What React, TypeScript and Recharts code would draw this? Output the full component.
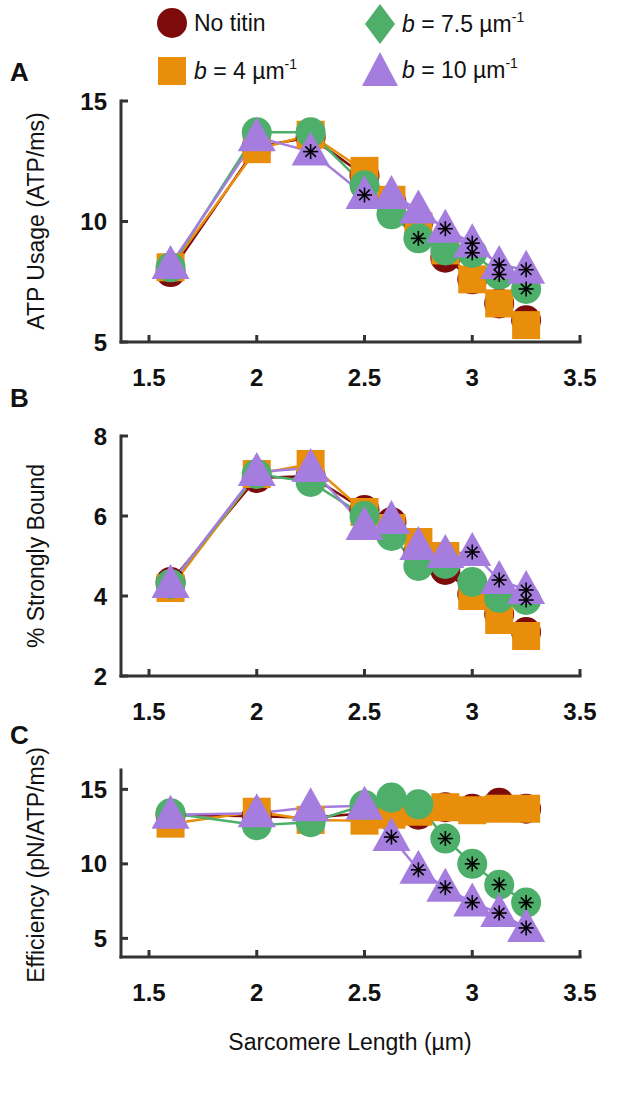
import React from "react";
import { ComposedChart, Line, XAxis, YAxis } from "recharts";

const sarcomereLength = [1.6, 2.0, 2.25, 2.5, 2.625, 2.75, 2.875, 3.0, 3.125, 3.25];
const xTicks = [1.5, 2, 2.5, 3, 3.5];

// A: ATP usage (ATP/ms)
const atpNoTitin = [7.9, 13.1, 13.5, 11.9, 10.8, 10.0, 8.5, 7.6, 6.6, 5.9];
const atpB4 = [8.1, 13.0, 13.6, 12.1, 10.9, 9.8, 8.8, 7.6, 6.6, 5.7];
const atpB75 = [8.1, 13.7, 13.7, 11.5, 10.3, 9.3, 8.8, 8.7, 7.8, 7.2];
const atpB10 = [8.2, 13.5, 12.9, 11.1, 11.1, 10.5, 9.7, 9.1, 8.2, 8.0];
const atpSig75 = [0, 0, 0, 0, 0, 1, 0, 1, 1, 1];
const atpSig10 = [0, 0, 1, 1, 0, 0, 1, 1, 1, 1];

// B: % strongly bound
const boundNoTitin = [4.35, 6.95, 7.0, 6.15, 5.85, 5.1, 4.65, 4.05, 3.55, 3.1];
const boundB4 = [4.2, 7.05, 7.3, 6.1, 5.7, 5.35, 5.0, 4.0, 3.4, 3.0];
const boundB75 = [4.3, 7.05, 6.85, 6.0, 5.5, 4.75, 4.8, 4.35, 3.95, 3.9];
const boundB10 = [4.3, 7.1, 7.2, 5.75, 5.9, 5.25, 5.05, 5.1, 4.4, 4.15];
const boundSig75 = [0, 0, 0, 0, 0, 0, 0, 0, 0, 1];
const boundSig10 = [0, 0, 0, 0, 0, 0, 0, 1, 1, 1];

// C: efficiency (pN/ATP/ms)
const effNoTitin = [13.3, 13.2, 13.1, 13.4, 13.8, 13.3, 13.8, 13.7, 14.1, 13.7];
const effB4 = [12.7, 13.5, 12.95, 12.9, 13.3, 13.5, 13.8, 13.6, 13.7, 13.7];
const effB75 = [13.4, 12.6, 12.8, 13.95, 14.45, 14.0, 11.7, 10.0, 8.6, 7.4];
const effB10 = [13.3, 13.4, 13.8, 13.9, 11.8, 9.6, 8.4, 7.4, 6.7, 5.7];
const effSig75 = [0, 0, 0, 0, 0, 0, 1, 1, 1, 1];
const effSig10 = [0, 0, 0, 0, 1, 1, 1, 1, 1, 1];

const RED = "#7d0b0b";
const ORANGE = "#e98e0b";
const GREEN = "#4daf69";
const PURPLE = "#a47ddf";
const AXIS = "#333";
const FONT = "'Liberation Sans', Arial, sans-serif";

const series = [
  { key: "r", color: RED, shape: "circle" },
  { key: "o", color: ORANGE, shape: "square" },
  { key: "g", color: GREEN, shape: "circle" },
  { key: "p", color: PURPLE, shape: "triangle" },
];

function makeRows(r: number[], o: number[], g: number[], p: number[]) {
  return sarcomereLength.map((x, i) => ({ x, r: r[i], o: o[i], g: g[i], p: p[i] }));
}

function marker(shape: string, color: string) {
  return (props: any) => {
    const { cx, cy, index } = props;
    if (cx == null || cy == null) return <g key={index} />;
    if (shape === "square")
      return <rect key={index} x={cx - 14} y={cy - 14} width={28} height={28} fill={color} />;
    if (shape === "triangle")
      return (
        <polygon
          key={index}
          points={`${cx},${cy - 20} ${cx - 19},${cy + 14} ${cx + 19},${cy + 14}`}
          fill={color}
        />
      );
    return <circle key={index} cx={cx} cy={cy} r={15} fill={color} />;
  };
}

function asterisk(sig: number[]) {
  return (props: any) => {
    const { cx, cy, index } = props;
    if (cx == null || cy == null || !sig[index]) return <g key={index} />;
    const s = 7.5;
    const d = 5.3;
    return (
      <g key={index} stroke="#000" strokeWidth={1.6}>
        <line x1={cx - s} y1={cy} x2={cx + s} y2={cy} />
        <line x1={cx} y1={cy - s} x2={cx} y2={cy + s} />
        <line x1={cx - d} y1={cy - d} x2={cx + d} y2={cy + d} />
        <line x1={cx - d} y1={cy + d} x2={cx + d} y2={cy - d} />
      </g>
    );
  };
}

const XTick = (props: any) => {
  const { x, y, payload } = props;
  return (
    <g>
      <line x1={x} x2={x} y1={y} y2={y - 7} stroke={AXIS} strokeWidth={3} />
      <text x={x} y={y + 44} textAnchor="middle" fontFamily={FONT} fontWeight="bold" fontSize={24} fill="#111">
        {payload.value}
      </text>
    </g>
  );
};

const YTick = (props: any) => {
  const { x, y, payload } = props;
  return (
    <g>
      <line x1={x} x2={x + 7} y1={y} y2={y} stroke={AXIS} strokeWidth={3} />
      <text x={x - 14} y={y + 8.5} textAnchor="end" fontFamily={FONT} fontWeight="bold" fontSize={24} fill="#111">
        {payload.value}
      </text>
    </g>
  );
};

type PanelProps = {
  plotTop: number;
  plotHeight: number;
  rows: any[];
  domain: [number, number];
  yTicks: number[];
  sig75: number[];
  sig10: number[];
};

function Panel({ plotTop, plotHeight, rows, domain, yTicks, sig75, sig10 }: PanelProps) {
  const axisLine = { stroke: AXIS, strokeWidth: 3, strokeLinecap: "square" as const };
  return (
    <div style={{ position: "absolute", left: 0, top: plotTop - 20 }}>
      <ComposedChart
        width={633}
        height={plotHeight + 80}
        data={rows}
        margin={{ top: 20, right: 53, bottom: 0, left: 0 }}
      >
        <XAxis
          type="number"
          dataKey="x"
          domain={[1.37, 3.5]}
          ticks={xTicks}
          tick={<XTick />}
          tickLine={false}
          tickSize={0}
          tickMargin={0}
          height={60}
          axisLine={axisLine}
        />
        <YAxis
          type="number"
          domain={domain}
          ticks={yTicks}
          tick={<YTick />}
          tickLine={false}
          tickSize={0}
          tickMargin={0}
          width={121}
          axisLine={axisLine}
        />
        {series.map((s) => (
          <Line
            key={"m" + s.key}
            dataKey={s.key}
            stroke="none"
            dot={marker(s.shape, s.color)}
            activeDot={false}
            isAnimationActive={false}
          />
        ))}
        {series.map((s) => (
          <Line
            key={"l" + s.key}
            dataKey={s.key}
            type="linear"
            stroke={s.color}
            strokeWidth={2.5}
            dot={false}
            activeDot={false}
            isAnimationActive={false}
          />
        ))}
        <Line dataKey="g" stroke="none" dot={asterisk(sig75)} activeDot={false} isAnimationActive={false} />
        <Line dataKey="p" stroke="none" dot={asterisk(sig10)} activeDot={false} isAnimationActive={false} />
      </ComposedChart>
    </div>
  );
}

const abs = (left: number, top: number): React.CSSProperties => ({ position: "absolute", left, top });

function LegendIcon({ shape, color }: { shape: string; color: string }) {
  return (
    <svg width={40} height={44} style={{ display: "block" }}>
      {shape === "circle" && <circle cx={20} cy={22} r={15} fill={color} />}
      {shape === "square" && <rect x={6} y={8} width={28} height={28} fill={color} />}
      {shape === "diamond" && <polygon points="20,2 35,22 20,42 5,22" fill={color} />}
      {shape === "triangle" && <polygon points="20,4 38,38 2,38" fill={color} />}
    </svg>
  );
}

function LegendItem({ left, cy, shape, color, children }: any) {
  return (
    <div style={{ ...abs(left, cy - 22), display: "flex", alignItems: "center", height: 44, whiteSpace: "nowrap" }}>
      <LegendIcon shape={shape} color={color} />
      <span style={{ marginLeft: 2, fontSize: 23 }}>{children}</span>
    </div>
  );
}

const sup: React.CSSProperties = { fontSize: 14, verticalAlign: "top", position: "relative", top: -2 };

function YTitle({ cy, text }: { cy: number; text: string }) {
  return (
    <div
      style={{
        position: "absolute",
        left: 36,
        top: cy,
        transform: "translate(-50%, -50%) rotate(-90deg)",
        whiteSpace: "nowrap",
        fontSize: 23,
      }}
    >
      {text}
    </div>
  );
}

export default function App() {
  const letter: React.CSSProperties = { position: "absolute", left: 10, fontSize: 26, fontWeight: "bold", lineHeight: "30px" };
  return (
    <div
      style={{
        position: "absolute",
        left: 0,
        top: 0,
        width: 633,
        height: 1103,
        background: "#fff",
        fontFamily: FONT,
        color: "#111",
        overflow: "hidden",
      }}
    >
      <LegendItem left={152} cy={23} shape="circle" color={RED}>No titin</LegendItem>
      <LegendItem left={152} cy={71} shape="square" color={ORANGE}>
        <i>b</i> = 4 µm<span style={sup}>-1</span>
      </LegendItem>
      <LegendItem left={360} cy={24} shape="diamond" color={GREEN}>
        <i>b</i> = 7.5 µm<span style={sup}>-1</span>
      </LegendItem>
      <LegendItem left={360} cy={70} shape="triangle" color={PURPLE}>
        <i>b</i> = 10 µm<span style={sup}>-1</span>
      </LegendItem>

      <div style={{ ...letter, top: 57 }}>A</div>
      <div style={{ ...letter, top: 383 }}>B</div>
      <div style={{ ...letter, top: 720 }}>C</div>

      <Panel plotTop={101} plotHeight={241} rows={makeRows(atpNoTitin, atpB4, atpB75, atpB10)} domain={[5, 15]} yTicks={[5, 10, 15]} sig75={atpSig75} sig10={atpSig10} />
      <Panel plotTop={436} plotHeight={240} rows={makeRows(boundNoTitin, boundB4, boundB75, boundB10)} domain={[2, 8]} yTicks={[2, 4, 6, 8]} sig75={boundSig75} sig10={boundSig10} />
      <Panel plotTop={770} plotHeight={187} rows={makeRows(effNoTitin, effB4, effB75, effB10)} domain={[3.75, 16.3]} yTicks={[5, 10, 15]} sig75={effSig75} sig10={effSig10} />

      <YTitle cy={221} text="ATP Usage (ATP/ms)" />
      <YTitle cy={556} text="% Strongly Bound" />
      <YTitle cy={865} text="Efficiency (pN/ATP/ms)" />

      <div style={{ position: "absolute", left: 350, top: 1042, transform: "translate(-50%, -50%)", fontSize: 23, whiteSpace: "nowrap" }}>
        Sarcomere Length (µm)
      </div>
    </div>
  );
}
